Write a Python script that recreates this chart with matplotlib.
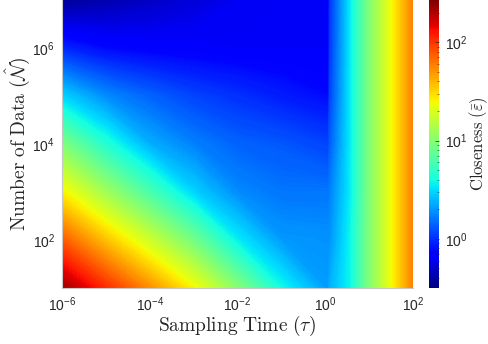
import numpy as np
import matplotlib
matplotlib.use("Agg")
import matplotlib.pyplot as plt
from matplotlib.colors import LogNorm, Normalize
from matplotlib.ticker import LogLocator
import matplotlib.cm as cm

plt.rcParams['font.family'] = ['Liberation Sans', 'DejaVu Sans']
plt.rcParams['mathtext.fontset'] = 'custom'
plt.rcParams['mathtext.rm'] = 'Liberation Sans'
plt.rcParams['mathtext.it'] = 'Liberation Sans:italic'
plt.rcParams['mathtext.bf'] = 'Liberation Sans:bold'

# Sampling time grid nodes (tau) and number-of-data nodes (N)
tau_nodes = [1e-6, 1e-5, 1e-4, 1e-3, 1e-2, 1e-1, 1.0, 1.202, 1.318, 3.98, 10.0, 31.6, 100.0]
n_nodes = [1e1, 1e2, 1e3, 1e4, 1e5, 1e6, 1e7]

# Closeness values, one row per N node (bottom to top)
closeness_N1e1 = [219.8, 104.7, 51.5, 24.5, 9.86, 3.84, 2.09, 2.09, 2.39, 3.84, 9.23, 22.9, 57.0]
closeness_N1e2 = [74.7, 35.6, 17.5, 8.34, 3.47, 2.02, 1.95, 1.95, 1.95, 3.84, 9.23, 22.9, 57.0]
closeness_N1e3 = [25.4, 12.1, 5.96, 2.93, 1.83, 1.60, 1.60, 1.60, 1.70, 3.59, 9.23, 22.9, 57.0]
closeness_N1e4 = [9.23, 4.40, 2.31, 1.71, 1.40, 1.30, 1.14, 1.14, 1.35, 3.59, 9.23, 22.9, 57.0]
closeness_N1e5 = [2.93, 1.83, 1.40, 1.14, 1.00, 0.871, 0.780, 0.780, 1.14, 3.59, 9.23, 22.9, 57.0]
closeness_N1e6 = [0.931, 0.760, 0.711, 0.687, 0.664, 0.664, 0.664, 0.664, 1.06, 3.59, 9.23, 22.9, 57.0]
closeness_N1e7 = [0.362, 0.414, 0.474, 0.542, 0.621, 0.664, 0.664, 0.664, 1.03, 3.59, 9.23, 22.9, 57.0]

cbar_min, cbar_max = 0.316, 269.0

C = np.array([closeness_N1e1, closeness_N1e2, closeness_N1e3, closeness_N1e4,
              closeness_N1e5, closeness_N1e6, closeness_N1e7])

fig = plt.figure(figsize=(4.89, 3.44), dpi=100)
rect = [62/489, 56/344, 351/489, 288/344]

# field drawn on axes whose coordinates are decades (log10 of tau and N)
ax_img = fig.add_axes(rect)
lx = np.log10(tau_nodes)
ly = np.log10(n_nodes)
lC = np.log10(C)
lo, hi = np.log10(cbar_min), np.log10(cbar_max)
levels = np.linspace(lo, hi, 300)
cf = ax_img.contourf(lx, ly, lC, levels=levels, cmap='jet',
                     norm=Normalize(vmin=lo, vmax=hi), antialiased=False)
cf.set_edgecolor('face')
ax_img.set_xlim(lx[0], lx[-1])
ax_img.set_ylim(ly[0], ly[-1])
ax_img.set_axis_off()

# log-scaled axes on top carrying the ticks and labels
ax = fig.add_axes(rect, facecolor='none')
ax.set_xscale('log')
ax.set_yscale('log')
ax.set_xlim(tau_nodes[0], tau_nodes[-1])
ax.set_ylim(n_nodes[0], n_nodes[-1])
ax.set_xticks([1e-6, 1e-4, 1e-2, 1e0, 1e2])
ax.set_yticks([1e2, 1e4, 1e6])
ax.xaxis.set_minor_locator(plt.NullLocator())
ax.yaxis.set_minor_locator(plt.NullLocator())
ax.tick_params(axis='both', which='both', length=0, labelsize=10, labelcolor='#262626', pad=5)
for s in ['top', 'right']:
    ax.spines[s].set_visible(False)
for s in ['left', 'bottom']:
    ax.spines[s].set_color('#c8c8c8')
    ax.spines[s].set_linewidth(0.8)

lab_col = '#262626'
ax.set_xlabel(r'$\mathrm{Sampling\ Time}\ (\tau)$', fontsize=14, color=lab_col,
              math_fontfamily='cm', labelpad=0.5)
ax.set_ylabel(r'$\mathrm{Number\ of\ Data}\ (\hat{\mathcal{N}})$', fontsize=14, color=lab_col,
              math_fontfamily='cm', labelpad=0.5)

cax = fig.add_axes([429/489, 56/344, 10/489, 288/344])
sm = cm.ScalarMappable(norm=LogNorm(vmin=cbar_min, vmax=cbar_max), cmap='jet')
cb = fig.colorbar(sm, cax=cax)
cb.outline.set_visible(False)
cb.set_ticks([1e0, 1e1, 1e2])
cb.ax.yaxis.set_minor_locator(LogLocator(subs=np.arange(2, 10)))
cb.ax.tick_params(which='major', direction='in', length=3, width=0.5, color='#262626',
                  labelsize=10, labelcolor='#262626', pad=4)
cb.ax.tick_params(which='minor', direction='in', length=1.5, width=0.4, color='#262626')
cb.set_label(r'$\mathrm{Closeness}\ (\bar{\varepsilon})$', fontsize=12, color=lab_col,
             math_fontfamily='cm', labelpad=0)

fig.savefig('out.png', dpi=100)
